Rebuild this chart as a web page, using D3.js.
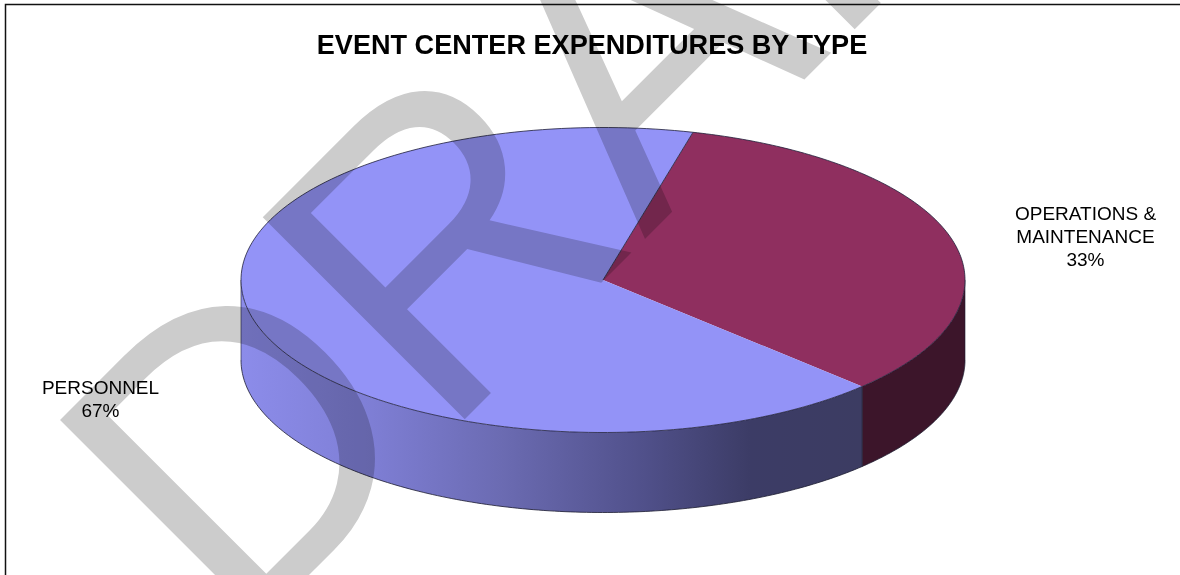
<!DOCTYPE html>
<html><head><meta charset="utf-8">
<script src="https://cdn.jsdelivr.net/npm/d3@7/dist/d3.min.js"></script>
<style>html,body{margin:0;padding:0;background:#fff}svg{display:block}text{font-family:"Liberation Sans",Arial,sans-serif}</style>
</head><body><div id="c"></div>
<script>
const title = "EVENT CENTER EXPENDITURES BY TYPE";
const categories = ["OPERATIONS & MAINTENANCE", "PERSONNEL"];
const values = [33.3, 66.7];
const watermark = "DRAFT";

const W = 1180, H = 575;
const cx = 603, cy = 280, rx = 362, ry = 152.5, depth = 80;
const svg = d3.select("#c").append("svg").attr("width", W).attr("height", H);

const topColors = ["#8f2f5f", "#9393f7"];
const defs = svg.append("defs");
const grad = defs.append("linearGradient").attr("id", "side").attr("gradientUnits", "userSpaceOnUse")
  .attr("x1", 241).attr("x2", 862).attr("y1", 0).attr("y2", 0);
[[0, "#8c8cea"], [0.2, "#7f7fd6"], [0.42, "#6b6bb2"], [0.65, "#50508a"], [0.82, "#3c3c66"], [1, "#3c3c62"]]
  .forEach(s => grad.append("stop").attr("offset", s[0]).attr("stop-color", s[1]));
const sideFill = ["#3c152a", "url(#side)"];

const pie = d3.pie().sort(null).startAngle(14.4 * Math.PI / 180).endAngle((360 + 14.4) * Math.PI / 180);
const arcs = pie(values);
const total = d3.sum(values);
const px = a => cx + rx * Math.sin(a);
const py = a => cy - ry * Math.cos(a);

function ell(a0, a1, dy, rev) {
  const n = 160, pts = d3.range(n + 1).map(i => {
    const a = a0 + (a1 - a0) * i / n; return [px(a), py(a) + dy];
  });
  return rev ? pts.reverse() : pts;
}
const line = d3.line();

const g = svg.append("g");
arcs.forEach((d, i) => {
  const a0 = Math.max(d.startAngle, Math.PI / 2), a1 = Math.min(d.endAngle, 3 * Math.PI / 2);
  if (a1 <= a0) return;
  const top = ell(a0, a1, 0), bot = ell(a0, a1, depth, true);
  g.append("path").attr("d", line(top.concat(bot)) + "Z").attr("fill", sideFill[i]);
  g.append("path").attr("d", line(bot)).attr("fill", "none").attr("stroke", "#1c1c30").attr("stroke-width", 0.8);
  g.append("path").attr("d", line([top[0], bot[bot.length - 1]])).attr("fill", "none").attr("stroke", "#1c1c30").attr("stroke-width", 0.6);
  g.append("path").attr("d", line([top[top.length - 1], bot[0]])).attr("fill", "none").attr("stroke", "#1c1c30").attr("stroke-width", 0.6);
});
arcs.forEach((d, i) => {
  const pts = [[cx, cy]].concat(ell(d.startAngle, d.endAngle, 0));
  g.append("path").attr("d", line(pts) + "Z").attr("fill", topColors[i]);
});
arcs.forEach((d, i) => {
  const outer = ell(d.startAngle, d.endAngle, 0);
  g.append("path").attr("d", line(outer)).attr("fill", "none").attr("stroke", "#20203a").attr("stroke-width", 0.8);
});
const a0 = arcs[0].startAngle;
g.append("path").attr("d", line([[px(a0), py(a0)], [cx, cy]])).attr("fill", "none").attr("stroke", "#2a2a44").attr("stroke-width", 0.9);

svg.append("text").attr("x", 592).attr("y", 54).attr("text-anchor", "middle")
  .attr("font-size", 27.1).attr("font-weight", "bold").attr("fill", "#000").text(title);

const pct = d3.format(".0%");
const labelLines = [["OPERATIONS &", "MAINTENANCE", pct(values[0] / total)], [categories[1], pct(values[1] / total)]];
const labelPos = [[1085.5, 220], [100.5, 394]];
labelLines.forEach((ls, i) => {
  const t = svg.append("text").attr("text-anchor", "middle").attr("font-size", 19).attr("fill", "#000");
  ls.forEach((s, j) => t.append("tspan").attr("x", labelPos[i][0]).attr("y", labelPos[i][1] + j * 23).text(s));
});

svg.append("path").attr("d", "M5.5,575V4.5H1180").attr("fill", "none").attr("stroke", "#111").attr("stroke-width", 1.5);

svg.append("text").attr("transform", "translate(239,645) rotate(-45) scale(1,1.046)")
  .attr("font-size", 397).attr("fill", "#cccccc").style("mix-blend-mode", "multiply").text(watermark);
</script></body></html>
